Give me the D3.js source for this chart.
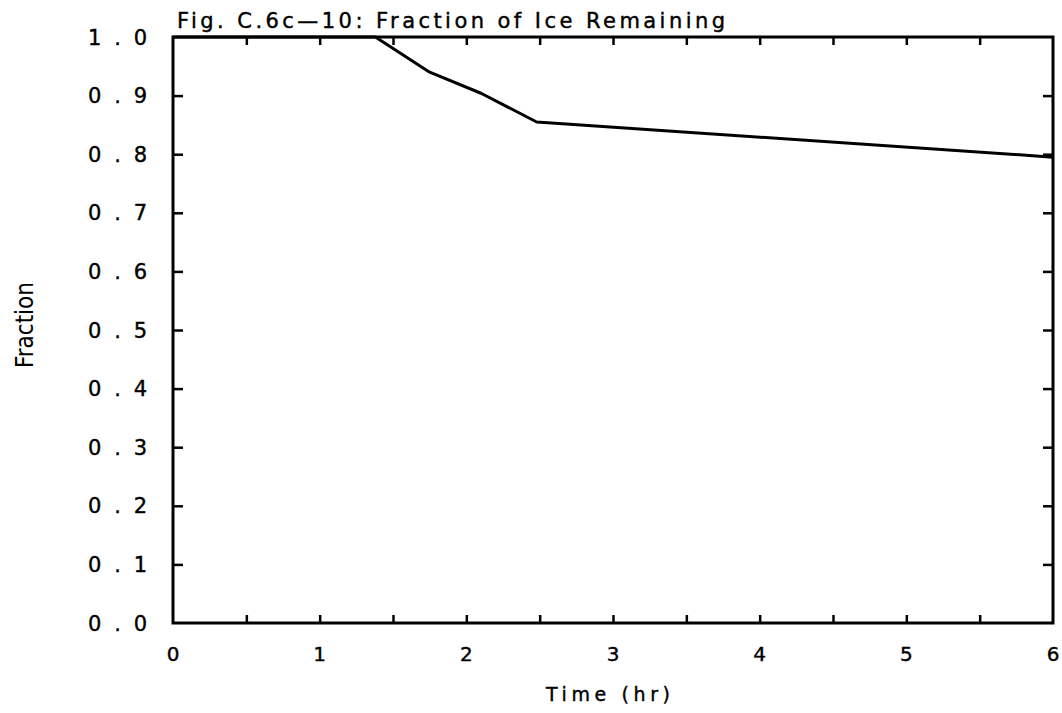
<!DOCTYPE html>
<html>
<head>
<meta charset="utf-8">
<script src="https://cdn.jsdelivr.net/npm/d3@7"></script>
<style>
  body { margin: 0; background: #fff; }
  svg { display: block; }
  text { font-family: "DejaVu Sans", sans-serif; fill: #000; }
</style>
</head>
<body>
<div id="chart"></div>
<script>
// data
var timeHr = [0, 1.38, 1.75, 2.1, 2.48, 6];
var fraction = [1.0, 1.0, 0.94, 0.904, 0.855, 0.795];

var xTicks = [0, 1, 2, 3, 4, 5, 6];
var xMinorTicks = [0.5, 1, 1.5, 2, 2.5, 3, 3.5, 4, 4.5, 5, 5.5];
var yTicks = [0, 0.1, 0.2, 0.3, 0.4, 0.5, 0.6, 0.7, 0.8, 0.9, 1.0];
var yTickLabels = ["0 . 0", "0 . 1", "0 . 2", "0 . 3", "0 . 4", "0 . 5", "0 . 6", "0 . 7", "0 . 8", "0 . 9", "1 . 0"];

var W = 1062, H = 713;
var margin = {top: 37, right: 9, bottom: 90, left: 173},
    width = W - margin.left - margin.right,
    height = H - margin.top - margin.bottom;

var svg = d3.select("#chart").append("svg")
    .attr("width", W)
    .attr("height", H);

var g = svg.append("g")
    .attr("transform", "translate(" + margin.left + "," + margin.top + ")");

var x = d3.scaleLinear().domain([0, 6]).range([0, width]);
var y = d3.scaleLinear().domain([0, 1]).range([height, 0]);

// inward ticks on all four sides
function styleAxis(sel) {
    sel.select(".domain").remove();
    sel.selectAll(".tick line").attr("stroke", "#000").attr("stroke-width", 2.5);
    sel.selectAll(".tick text").remove();
}

g.append("g")
    .attr("transform", "translate(0," + height + ")")
    .call(d3.axisBottom(x).tickValues(xMinorTicks).tickSize(-8))
    .call(styleAxis);

g.append("g")
    .call(d3.axisTop(x).tickValues(xMinorTicks).tickSize(-8))
    .call(styleAxis);

g.append("g")
    .call(d3.axisLeft(y).tickValues(yTicks.slice(1, -1)).tickSize(-10))
    .call(styleAxis);

g.append("g")
    .attr("transform", "translate(" + width + ",0)")
    .call(d3.axisRight(y).tickValues(yTicks.slice(1, -1)).tickSize(-10))
    .call(styleAxis);

// frame
g.append("rect")
    .attr("x", 0).attr("y", 0)
    .attr("width", width).attr("height", height)
    .attr("fill", "none")
    .attr("stroke", "#000")
    .attr("stroke-width", 3);

// tick labels
g.append("g")
    .selectAll("text")
    .data(yTicks).enter()
    .append("text")
    .attr("x", -26)
    .attr("y", function(d){ return y(d); })
    .attr("dy", "0.36em")
    .attr("text-anchor", "end")
    .attr("textLength", 59)
    .attr("lengthAdjust", "spacing")
    .style("font-size", "21px")
    .style("stroke", "#000")
    .style("stroke-width", 0.4)
    .text(function(d, i){ return yTickLabels[i]; });

g.append("g")
    .selectAll("text")
    .data(xTicks).enter()
    .append("text")
    .attr("x", function(d){ return x(d); })
    .attr("y", height + 38)
    .attr("text-anchor", "middle")
    .style("font-size", "20px")
    .style("stroke", "#000")
    .style("stroke-width", 0.4)
    .text(function(d){ return d; });

// data line
var line = d3.line()
    .x(function(d){ return x(d[0]); })
    .y(function(d){ return y(d[1]); });

g.append("path")
    .datum(timeHr.map(function(t, i){ return [t, fraction[i]]; }))
    .attr("fill", "none")
    .attr("stroke", "#000")
    .attr("stroke-width", 3)
    .attr("stroke-linejoin", "round")
    .attr("d", line);

// titles
svg.append("text")
    .attr("x", 177)
    .attr("y", 28)
    .attr("textLength", 548)
    .attr("lengthAdjust", "spacing")
    .style("font-size", "21px")
    .style("stroke", "#000")
    .style("stroke-width", 0.4)
    .text("Fig. C.6c\u201410: Fraction of Ice Remaining");

svg.append("text")
    .attr("x", 608)
    .attr("y", 701)
    .attr("text-anchor", "middle")
    .attr("textLength", 124)
    .attr("lengthAdjust", "spacing")
    .style("font-size", "19px")
    .style("stroke", "#000")
    .style("stroke-width", 0.4)
    .text("Time  (hr)");

svg.append("text")
    .attr("transform", "translate(33,325) rotate(-90)")
    .attr("text-anchor", "middle")
    .attr("textLength", 86)
    .attr("lengthAdjust", "spacingAndGlyphs")
    .style("font-family", "'DejaVu Sans Condensed', sans-serif")
    .style("font-size", "24px")
    .text("Fraction");
</script>
</body>
</html>
